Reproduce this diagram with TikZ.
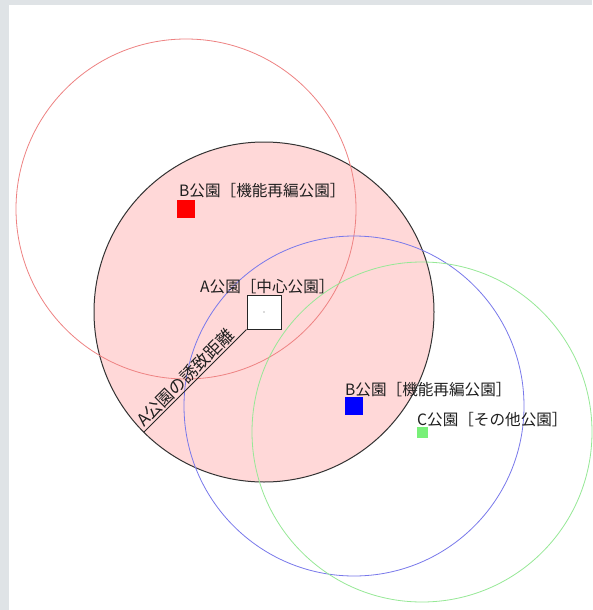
\documentclass[tikz,border=0pt]{standalone}
\usepackage{fontspec}
\setmainfont{Noto Sans CJK JP}
\usetikzlibrary{calc}
\definecolor{bggray}{RGB}{223,227,230}
\definecolor{pinkfill}{RGB}{255,216,216}
\definecolor{redline}{RGB}{238,130,130}
\definecolor{blueline}{RGB}{120,120,235}
\definecolor{greenline}{RGB}{150,232,150}
\definecolor{greenpark}{RGB}{120,240,120}
\tikzset{
  lbl/.style={anchor=west, inner sep=0pt, font=\fontsize{15.6}{17}\selectfont, text=black!88},
  ring/.style={line width=0.8pt},
  park/.style={draw=none, inner sep=0pt, minimum size=#1},
}
\begin{document}
\begin{tikzpicture}[x=1pt,y=-1pt]
\useasboundingbox (0,0) rectangle (592,610);
\fill[bggray] (0,0) rectangle (592,610);
\fill[white] (9,5) rectangle (592,610);
% centres
\coordinate (ca) at (264,312);
\coordinate (cb1) at (186,209);
\coordinate (cb2) at (354,406);
\coordinate (cc) at (422,432);
\filldraw[fill=pinkfill, draw=black!80, line width=1pt] (ca) circle[radius=170];
\draw[ring, redline] (cb1) circle[radius=170];
\draw[ring, blueline] (cb2) circle[radius=170];
\draw[ring, greenline] (cc) circle[radius=170];
% parks
\node[park=18pt, fill=red] (b1) at (cb1) {};
\node[park=18pt, fill=blue] (b2) at (cb2) {};
\node[park=11pt, fill=greenpark] (c) at (cc) {};
\node[draw=black!85, fill=white, line width=1pt, minimum size=34pt, inner sep=0pt] (a) at (ca) {};
\fill[black!60] (ca) circle[radius=0.6];
% distance line
\coordinate (e) at ($(ca)+(-120.2,120.2)$);
\draw[black!85, line width=1pt] (e) -- (a.south west)
  node[pos=0.47, sloped, above, inner sep=1pt, text=black!88, font=\fontsize{17}{18}\selectfont] {A公園の誘致距離};
% labels
\node[lbl] (lb1) at (179,191) {B公園［機能再編公園］};
\node[lbl] (la) at (200,287) {A公園［中心公園］};
\node[lbl] (lb2) at (345,390) {B公園［機能再編公園］};
\node[lbl] (lc) at (417,420) {C公園［その他公園］};
\end{tikzpicture}
\end{document}
